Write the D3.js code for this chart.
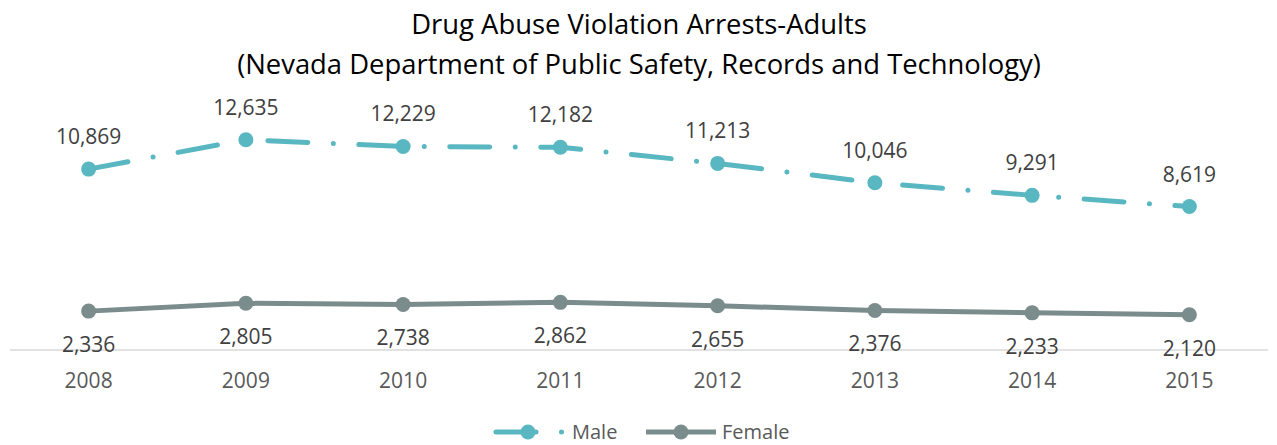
<!DOCTYPE html>
<html><head><meta charset="utf-8">
<script src="https://cdn.jsdelivr.net/npm/d3@7"></script>
<style>
body{margin:0;background:#fff;}
text{font-family:"Open Sans", sans-serif;}
</style></head>
<body><svg id="chart" width="1277" height="445"></svg>
<script>
const years = ["2008","2009","2010","2011","2012","2013","2014","2015"];
const male = [10869,12635,12229,12182,11213,10046,9291,8619];
const female = [2336,2805,2738,2862,2655,2376,2233,2120];
const titleLines = ["Drug Abuse Violation Arrests-Adults","(Nevada Department of Public Safety, Records and Technology)"];
const seriesNames = ["Male","Female"];

const svg=d3.select("#chart");
const x=d3.scaleBand().domain(years).range([10,1268]);
const y=d3.scaleLinear().domain([0,14000]).range([350,117]);
const cx=d=>x(d)+x.bandwidth()/2;
const maleColor="#58B7C0", femaleColor="#7B8C8C";

svg.selectAll("text.title").data(titleLines).join("text").attr("class","title")
  .attr("x",639).attr("y",(d,i)=>34+i*40).attr("text-anchor","middle")
  .attr("font-size",27.4).attr("fill","#000").text(d=>d);

svg.append("line").attr("x1",10).attr("x2",1268).attr("y1",350).attr("y2",350)
  .attr("stroke","#d9d9d9").attr("stroke-width",1.5);

const xAxis=svg.append("g").attr("transform","translate(0,350)")
  .call(d3.axisBottom(x).tickSize(0).tickPadding(0));
xAxis.select(".domain").remove();
xAxis.selectAll("text").attr("font-size",21).attr("fill","#595959").attr("font-family",null)
  .attr("dy",null).attr("y",38);

const line=d3.line().x((d,i)=>cx(years[i])).y(d=>y(d));
const dash="40,25.5,0,25.5";

svg.append("path").datum(male).attr("d",line).attr("fill","none")
  .attr("stroke",maleColor).attr("stroke-width",5).attr("stroke-linecap","round")
  .attr("stroke-dasharray",dash);
svg.append("path").datum(female).attr("d",line).attr("fill","none")
  .attr("stroke",femaleColor).attr("stroke-width",5);

svg.selectAll("circle.m").data(male).join("circle").attr("class","m")
  .attr("cx",(d,i)=>cx(years[i])).attr("cy",d=>y(d)).attr("r",7.5).attr("fill",maleColor);
svg.selectAll("circle.f").data(female).join("circle").attr("class","f")
  .attr("cx",(d,i)=>cx(years[i])).attr("cy",d=>y(d)).attr("r",7.5).attr("fill",femaleColor);

const fmt=d3.format(",");
svg.selectAll("text.ml").data(male).join("text").attr("class","ml")
  .attr("x",(d,i)=>cx(years[i])).attr("y",d=>y(d)-25).attr("text-anchor","middle")
  .attr("font-size",21).attr("fill","#404040").text(fmt);
svg.selectAll("text.fl").data(female).join("text").attr("class","fl")
  .attr("x",(d,i)=>cx(years[i])).attr("y",d=>y(d)+41).attr("text-anchor","middle")
  .attr("font-size",21).attr("fill","#404040").text(fmt);

// legend
const ly=432;
const lg=svg.append("g");
lg.append("path").attr("d",`M496,${ly}H566`).attr("stroke",maleColor).attr("stroke-width",5)
  .attr("stroke-linecap","round").attr("stroke-dasharray","40,25.5,0,25.5").attr("fill","none");
lg.append("circle").attr("cx",528).attr("cy",ly).attr("r",7.5).attr("fill",maleColor);
lg.append("text").attr("x",572).attr("y",ly+7).attr("font-size",20).attr("fill","#595959").text(seriesNames[0]);
lg.append("line").attr("x1",646).attr("x2",716).attr("y1",ly).attr("y2",ly).attr("stroke",femaleColor).attr("stroke-width",5);
lg.append("circle").attr("cx",681).attr("cy",ly).attr("r",7.5).attr("fill",femaleColor);
lg.append("text").attr("x",722).attr("y",ly+7).attr("font-size",20).attr("fill","#595959").text(seriesNames[1]);
</script></body></html>
